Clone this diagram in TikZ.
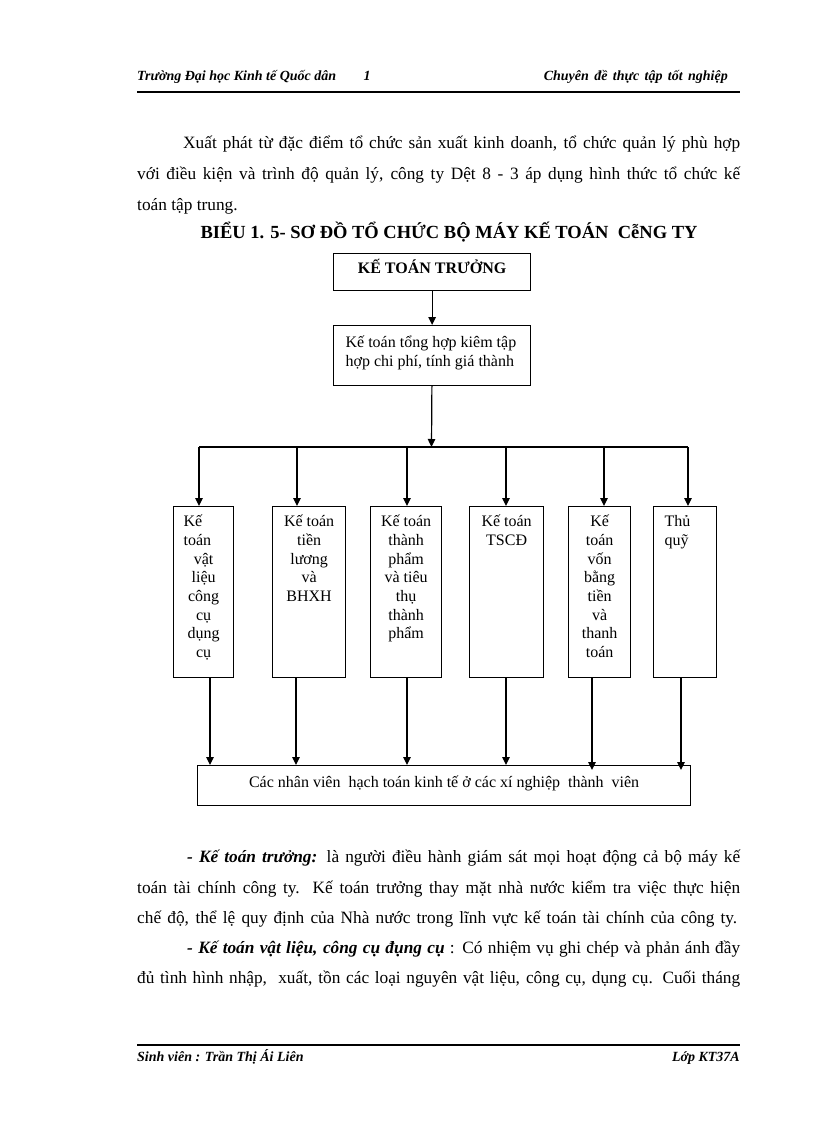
\documentclass[tikz,border=0pt]{standalone}
\usepackage{fontspec}
\setmainfont{Liberation Serif}
\usetikzlibrary{arrows.meta}

\newcommand{\cellbox}[5]{\parbox[c][#2][t]{#1}{#3\rule{0pt}{#4}#5}}

\begin{document}
\begin{tikzpicture}
    [x=1pt,y=-1pt,
     box/.style={draw=black,line width=1.2pt,inner sep=0pt,anchor=north west,
       font=\fontsize{16}{18.7}\selectfont},
     pre/.style={-{Triangle[length=8pt,width=7.5pt]},line width=1.2pt},
     wire/.style={line width=1.2pt},
     bodytext/.style={anchor=base west,inner sep=0pt,text width=603pt,align=justify,
       font=\fontsize{17.3}{30.6}\selectfont},
     headtext/.style={inner sep=0pt,font=\fontsize{14}{16}\selectfont\bfseries\itshape}]
  \useasboundingbox (0,0) rectangle (816,1123);

  % header and footer
  \node [headtext,anchor=base west] (school) at (137,81) {Trường Đại học Kinh tế Quốc dân};
  \node [headtext,anchor=base] (page) at (367,81) {1};
  \node [headtext,anchor=base east] (topic) at (728,81) {\makebox[184pt][s]{Chuyên đề thực tập tốt nghiệp}};
  \draw [line width=1.4pt] (137,92) -- (740,92);
  \draw [line width=2.4pt] (137,1045) -- (740,1045);
  \node [headtext,anchor=base west] (student) at (137,1061) {Sinh viên : Trần Thị Ái Liên};
  \node [headtext,anchor=base east] (class) at (740,1061) {Lớp KT37A};

  % text above the chart
  \node [bodytext] (intro) at (137,149) {\hspace*{46pt}\makebox[557pt][s]{Xuất phát từ đặc điểm tổ chức sản xuất kinh doanh, tổ chức quản lý phù hợp}\\
    \makebox[603pt][s]{với điều kiện và trình độ quản lý, công ty Dệt 8 - 3 áp dụng hình thức tổ chức kế}\\
    toán tập trung.};
  \node [anchor=base,inner sep=0pt,font=\fontsize{18.5}{20}\selectfont\bfseries] (title) at (449,238)
    {BIỂU 1. 5- SƠ ĐỒ TỔ CHỨC BỘ MÁY KẾ TOÁN\ \ CễNG TY};

  % chart
  \node [box] (ktt) at (333,253) {\cellbox{197pt}{37pt}{\centering}{20pt}{\textbf{KẾ TOÁN TRƯỞNG}}};
  \node [box] (kth) at (333,325) {\cellbox{197pt}{60pt}{\raggedright\leftskip=12pt\baselineskip=19pt}{22pt}{Kế toán tổng hợp kiêm tập\\hợp chi phí, tính giá thành}};
  \node [box] (vl) at (173,506) {\cellbox{60pt}{171pt}{\centering}{20pt}{\makebox[40pt][l]{Kế}\\\makebox[40pt][l]{toán}\\vật\\liệu\\công\\cụ\\dụng\\cụ}};
  \node [box] (tl) at (272,506) {\cellbox{73pt}{171pt}{\centering}{20pt}{Kế toán\\tiền\\lương\\và\\BHXH}};
  \node [box] (tp) at (370,506) {\cellbox{71pt}{171pt}{\centering}{20pt}{Kế toán\\thành\\phẩm\\và tiêu\\thụ\\thành\\phẩm}};
  \node [box] (ts) at (469,506) {\cellbox{74pt}{171pt}{\centering}{20pt}{Kế toán\\TSCĐ}};
  \node [box] (vb) at (568,506) {\cellbox{62pt}{171pt}{\centering}{20pt}{Kế\\toán\\vốn\\bằng\\tiền\\và\\thanh\\toán}};
  \node [box] (tq) at (653,506) {\cellbox{63pt}{171pt}{\raggedright\leftskip=11pt}{20pt}{Thủ\\quỹ}};
  \node [box] (nv) at (197,765) {\cellbox{493pt}{40pt}{\centering}{22pt}{Các nhân\ viên\ \ hạch\ toán\ kinh\ tế ở các xí\ nghiệp\ \ thành\ \ viên}};

  \coordinate (bus) at (431.5,447);
  \coordinate (b1) at (199,447);
  \coordinate (b2) at (297,447);
  \coordinate (b3) at (407,447);
  \coordinate (b4) at (506,447);
  \coordinate (b5) at (604,447);
  \coordinate (b6) at (688,447);
  \coordinate (d1) at (210,765);
  \coordinate (d2) at (296,765);
  \coordinate (d3) at (407,765);
  \coordinate (d4) at (506,765);
  \coordinate (d5) at (592,770);
  \coordinate (d6) at (681,770);

  \draw [pre] (ktt) -- (kth);
  \draw [pre] (kth) -- (bus);
  \draw [wire] (b1) -- (b6);
  \draw [pre] (b1) -- (b1 |- vl.north);
  \draw [pre] (b2) -- (b2 |- tl.north);
  \draw [pre] (b3) -- (b3 |- tp.north);
  \draw [pre] (b4) -- (b4 |- ts.north);
  \draw [pre] (b5) -- (b5 |- vb.north);
  \draw [pre] (b6) -- (b6 |- tq.north);
  \draw [pre] (d1 |- vl.south) -- (d1);
  \draw [pre] (d2 |- tl.south) -- (d2);
  \draw [pre] (d3 |- tp.south) -- (d3);
  \draw [pre] (d4 |- ts.south) -- (d4);
  \draw [pre] (d5 |- vb.south) -- (d5);
  \draw [pre] (d6 |- tq.south) -- (d6);

  % text below the chart
  \node [bodytext] (chief) at (137,862.5) {\hspace*{50pt}\makebox[553pt][s]{\textbf{\textit{- Kế toán trưởng:}} là người điều hành giám sát mọi hoạt động cả bộ máy kế}\\
    \makebox[603pt][s]{toán tài chính công ty. Kế toán trưởng thay mặt nhà nước kiểm tra việc thực hiện}\\
    \makebox[600pt][s]{chế độ, thể lệ quy định của Nhà nước trong lĩnh vực kế toán tài chính của công ty.}};
  \node [bodytext] (material) at (137,953) {\hspace*{50pt}\makebox[553pt][s]{\textbf{\textit{- Kế toán vật liệu, công cụ đụng cụ}} : Có nhiệm vụ ghi chép và phản ánh đầy}\\
    \makebox[603pt][s]{đủ tình hình nhập,\ \ xuất, tồn các loại nguyên vật liệu, công cụ, dụng cụ. Cuối tháng}};
\end{tikzpicture}
\end{document}
